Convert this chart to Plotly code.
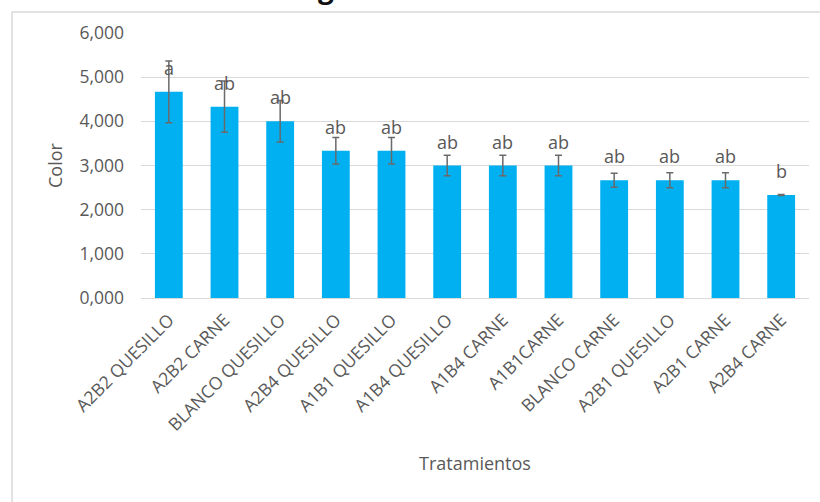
import plotly.graph_objects as go

# Treatment names, mean colour score, error and significance groups
tratamientos = [
    "A2B2 QUESILLO", "A2B2 CARNE", "BLANCO QUESILLO", "A2B4 QUESILLO",
    "A1B1 QUESILLO", "A1B4 QUESILLO", "A1B4 CARNE", "A1B1CARNE",
    "BLANCO CARNE", "A2B1 QUESILLO", "A2B1 CARNE", "A2B4 CARNE",
]
color_medias = [4.667, 4.333, 4.000, 3.333, 3.333, 3.000,
                3.000, 3.000, 2.667, 2.667, 2.667, 2.333]
color_error = [0.70, 0.58, 0.47, 0.30, 0.30, 0.23,
               0.23, 0.23, 0.16, 0.17, 0.17, 0.01]
grupos = ["a", "ab", "ab", "ab", "ab", "ab",
          "ab", "ab", "ab", "ab", "ab", "b"]
y_ticks = [0, 1, 2, 3, 4, 5, 6]

FONT = "Open Sans, sans-serif"
GREY = "#595959"

fig = go.Figure(
    go.Bar(
        x=tratamientos,
        y=color_medias,
        marker=dict(color="#00B0F0", line=dict(width=0)),
        error_y=dict(type="data", array=color_error, visible=True,
                     color="#6a6a6a", thickness=1.5, width=3.5),
        hoverinfo="x+y",
    )
)

# significance letters above each bar
for cat, val, g in zip(tratamientos, color_medias, grupos):
    fig.add_annotation(
        x=cat, y=val, text=g, showarrow=False,
        yanchor="bottom", yshift=10,
        font=dict(family=FONT, size=18, color=GREY),
    )

# chart title, mostly cut off at the top edge
fig.add_annotation(
    xref="paper", yref="paper", x=(326 - 141) / 668, y=1.095,
    xanchor="center", yanchor="bottom", text="<b>g</b>", showarrow=False,
    font=dict(family=FONT, size=28, color="#111111"),
)

# chart frame
fig.add_shape(type="rect", xref="paper", yref="paper",
              x0=-0.193, x1=1.05, y0=-1.0, y1=1.079,
              line=dict(color="#d9d9d9", width=1.5), layer="below")

fig.update_layout(
    width=820, height=502,
    margin=dict(l=141, r=11, t=33, b=204),
    paper_bgcolor="white", plot_bgcolor="white",
    separators=",.",
    bargap=0.5,
    showlegend=False,
    font=dict(family=FONT, color=GREY, size=17),
    xaxis=dict(
        tickangle=-45, tickfont=dict(size=17.5, color=GREY),
        showgrid=False, showline=True, linecolor="#d9d9d9", linewidth=1,
        ticks="", ticklabelstandoff=4,
        title=dict(text="Tratamientos", font=dict(size=18, color=GREY), standoff=22),
    ),
    yaxis=dict(
        range=[0, 6], tickvals=y_ticks, tickformat=".3f",
        tickfont=dict(size=17.5, color=GREY),
        showgrid=True, gridcolor="#d9d9d9", gridwidth=1,
        zeroline=True, zerolinecolor="#d9d9d9", zerolinewidth=1,
        ticks="", ticklabelstandoff=16,
        title=dict(text="Color", font=dict(size=18, color=GREY), standoff=12),
    ),
)

fig.write_html("out.html")
